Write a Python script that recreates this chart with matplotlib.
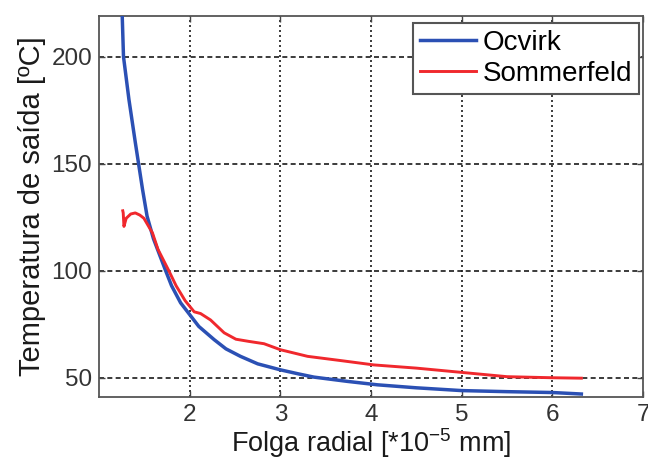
import matplotlib
matplotlib.use("Agg")
import matplotlib.pyplot as plt

# Outlet temperature vs. radial clearance for two bearing theories
ocvirk_x = [1.256, 1.27, 1.33, 1.40, 1.48, 1.53, 1.60, 1.735, 1.80, 1.90, 2.00,
            2.10, 2.27, 2.40, 2.56, 2.75, 3.00, 3.20, 3.37, 3.74, 4.07, 4.50,
            5.00, 5.50, 6.00, 6.32]
ocvirk_t = [219, 200, 180, 160, 138, 125.5, 115, 100, 93, 85, 79.5,
            74, 67.8, 63.5, 60, 56.5, 53.7, 51.8, 50.3, 48.3, 46.7, 45.3,
            44.0, 43.5, 43.1, 42.4]

sommerfeld_x = [1.262, 1.267, 1.275, 1.30, 1.35, 1.40, 1.45, 1.495, 1.59, 1.65,
                1.77, 1.85, 1.95, 2.05, 2.12, 2.23, 2.38, 2.51, 2.65, 2.82,
                3.00, 3.30, 3.67, 4.03, 4.50, 5.00, 5.50, 6.00, 6.32]
sommerfeld_t = [128, 127, 120.7, 124.5, 126.5, 127, 126, 124.5, 117.6, 110,
                100, 93, 86, 80.8, 80, 77, 71, 68, 67, 65.9,
                63.1, 60, 58, 56, 54.5, 52.5, 50.5, 50, 49.8]

series_labels = ["Ocvirk", "Sommerfeld"]
x_ticks = [2, 3, 4, 5, 6, 7]
y_ticks = [50, 100, 150, 200]

plt.rcParams["font.family"] = ["Liberation Sans", "DejaVu Sans"]
plt.rcParams["mathtext.default"] = "regular"

fig = plt.figure(figsize=(6.48, 4.61), dpi=100)
ax = fig.add_axes([0.1528, 0.1388, 0.8395, 0.8265])

ax.plot(ocvirk_x, ocvirk_t, color="#2b50b4", lw=2.5, label=series_labels[0], zorder=3)
ax.plot(sommerfeld_x, sommerfeld_t, color="#f0282d", lw=2.1, label=series_labels[1], zorder=3)

ax.set_xlim(1, 7)
ax.set_ylim(41, 219)
ax.set_xticks(x_ticks)
ax.set_yticks(y_ticks)

# grid: dotted verticals, dashed horizontals
for xv in x_ticks[:-1]:
    ax.axvline(xv, color="#1a1a1a", lw=1.2, ls=(0, (1.2, 1.8)), zorder=1)
for yv in y_ticks:
    ax.axhline(yv, color="#1a1a1a", lw=1.2, ls=(0, (3.0, 2.0)), zorder=1)

for s in ax.spines.values():
    s.set_color("#555555")
    s.set_linewidth(1.3)

ax.tick_params(direction="in", length=4, width=1, color="#444444",
               top=True, right=True, labelsize=17.5, labelcolor="#333333", pad=5)

ax.set_xlabel(r"Folga radial [*10$^{-5}$ mm]", fontsize=19.5, color="#1a1a1a", labelpad=0)
ax.set_ylabel("Temperatura de saída [ºC]", fontsize=21, color="#1a1a1a", labelpad=4)

leg = ax.legend(loc="upper right", bbox_to_anchor=(0.9861, 0.950),
                bbox_transform=fig.transFigure, borderaxespad=0,
                fancybox=False, fontsize=20, handlelength=2.0,
                handletextpad=0.25, labelspacing=0.18, borderpad=0.25,
                framealpha=1)
leg.get_frame().set_edgecolor("#555555")
leg.get_frame().set_linewidth(1.5)

fig.savefig("out.png", dpi=100)
